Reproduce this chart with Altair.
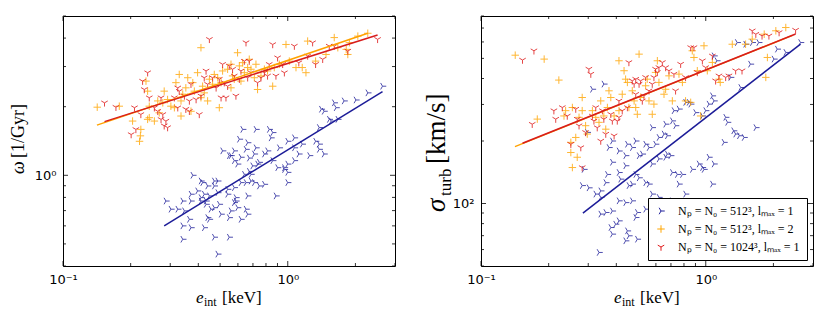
import altair as alt
import pandas as pd

# ---------------- series ----------------
S1 = "Nₚ = N₀ = 512³, lₘₐₓ = 1"
S2 = "Nₚ = N₀ = 512³, lₘₐₓ = 2"
S3 = "Nₚ = N₀ = 1024³, lₘₐₓ = 1"
SERIES = [S1, S2, S3]
MARKER_COLORS = ["#23239c", "#ffa500", "#e01818"]
LINE_COLORS = ["#1c1c98", "#ffa200", "#d81c1c"]
TRI_RIGHT = "M0,0L1,0M0,0L-0.5,-0.866M0,0L-0.5,0.866"
PLUS = "M-1,0L1,0M0,-1L0,1"
TRI_DOWN = "M0,0L0,1M0,0L-0.866,-0.5M0,0L0.866,-0.5"
SHAPES = [TRI_RIGHT, PLUS, TRI_DOWN]

# ---------------- left panel: omega [1/Gyr] vs e_int [keV] ----------------
LEFT_BLUE = [(2.64,2.46),(2.27,2.30),(2.01,2.14),(1.78,2.12),(1.61,2.08),(1.64,1.98),(1.41,1.95),(1.45,1.91),(1.38,1.62),(1.53,1.76),(1.67,1.76),(1.56,1.73),
    (0.630,1.59),(0.722,1.59),(0.827,1.59),(0.857,1.54),(0.842,1.46),(0.663,1.39),(0.609,1.44),(0.722,1.32),(0.652,1.30),(0.578,1.28),(0.513,1.28),(0.559,1.22),
    (0.619,1.20),(0.674,1.19),(0.710,1.24),(0.787,1.24),(0.813,1.28),(0.917,1.32),(0.999,1.41),(1.07,1.46),(1.07,1.32),(1.16,1.37),(1.38,1.37),(1.33,1.41),
    (1.38,1.30),(1.45,1.24),(1.12,1.24),(1.25,1.22),(1.07,1.16),(0.999,1.12),(0.966,1.06),(0.999,1.03),(0.901,1.08),(0.857,1.16),(0.747,1.14),(0.734,1.12),
    (0.698,1.10),(0.674,1.04),(0.686,1.01),(0.641,1.01),(0.598,1.12),(0.578,1.16),(0.549,1.22),
    (0.378,1.00),(0.411,0.944),(0.418,0.929),(0.471,0.944),(0.471,0.898),(0.488,0.944),(0.440,0.898),(0.397,0.854),(0.371,0.826),(0.425,0.826),
    (0.448,0.812),(0.433,0.771),(0.488,0.839),(0.540,0.868),(0.578,0.883),(0.619,0.929),(0.652,0.929),(0.686,0.944),(0.710,0.929),(0.747,0.898),
    (0.787,0.913),(0.886,0.812),(0.999,0.929),(0.966,1.08),(0.663,0.812),(0.588,0.798),(0.588,0.771),(0.652,0.710),(0.663,0.675),(0.559,0.698),
    (0.549,0.652),(0.505,0.675),(0.471,0.721),(0.455,0.710),(0.411,0.771),(0.371,0.771),(0.341,0.771),(0.324,0.710),(0.302,0.710),(0.287,0.771),
    (0.347,0.698),(0.365,0.641),(0.440,0.652),(0.448,0.641),(0.371,0.589),(0.425,0.589),(0.341,0.600),(0.471,0.535),(0.341,0.524),(0.488,0.451),
    (0.549,0.535),(0.411,0.798),(0.433,0.746),(0.496,0.746),(0.540,0.826),(0.598,0.721),(0.619,0.641),(0.578,0.759)]
LEFT_ORANGE = [(0.142,1.99),(0.178,2.01),(0.204,1.73),(0.222,1.59),(0.221,1.49),(0.219,1.41),(0.238,1.76),(0.242,1.79),(0.238,2.34),(0.234,2.59),
    (0.242,2.01),(0.255,1.73),(0.268,1.88),(0.282,2.34),(0.292,2.15),(0.302,2.01),(0.318,2.55),(0.329,2.77),(0.335,2.12),(0.341,2.27),
    (0.352,2.42),(0.359,2.68),(0.378,2.55),(0.397,2.82),(0.411,3.63),(0.418,2.46),(0.425,2.30),(0.440,2.12),(0.448,2.64),(0.463,2.51),
    (0.471,2.77),(0.496,1.98),(0.505,2.55),(0.513,2.87),(0.540,2.92),(0.559,3.07),(0.568,2.73),(0.578,2.64),(0.598,3.45),(0.609,3.02),
    (0.619,2.59),(0.630,3.12),(0.641,2.82),(0.663,2.97),(0.674,3.23),(0.686,2.92),(0.722,3.07),(0.734,2.38),(0.760,2.73),(0.787,2.92),
    (0.813,2.87),(0.857,2.46),(0.871,2.97),(0.917,3.07),(0.982,3.75),(1.016,3.17),(1.088,2.97),(1.16,2.97),(1.205,2.82),(1.226,3.88),
    (1.33,3.17),(1.48,3.39),(1.61,4.02),(1.67,3.63),(1.82,3.57),(1.88,3.82),(2.05,4.08),(2.27,4.20),(1.85,3.39),(0.411,2.19),
    (0.371,1.91),(0.335,1.82),(0.313,1.98),(0.278,2.08),(0.264,2.12),(0.384,2.34),(0.488,2.68),(0.559,2.42),(0.710,2.68)]
LEFT_RED = [(0.153,2.08),(0.172,1.99),(0.201,1.51),(0.211,1.59),(0.208,1.98),(0.222,1.85),(0.238,2.82),(0.226,2.59),(0.230,2.38),(0.242,2.19),
    (0.255,1.98),(0.264,1.91),(0.273,1.76),(0.278,1.85),(0.282,1.65),(0.292,1.62),(0.287,1.73),(0.313,2.19),(0.324,2.42),(0.329,2.34),
    (0.347,2.23),(0.352,1.95),(0.365,2.12),(0.371,2.51),(0.391,2.15),(0.404,1.85),(0.411,2.23),(0.433,2.87),(0.440,2.51),(0.448,3.95),
    (0.463,2.68),(0.480,2.42),(0.496,2.64),(0.513,3.07),(0.522,2.55),(0.531,2.19),(0.540,2.46),(0.549,3.02),(0.568,2.92),(0.578,2.73),
    (0.588,2.23),(0.609,2.64),(0.619,2.87),(0.641,3.17),(0.652,3.82),(0.663,2.68),(0.674,3.17),(0.686,2.82),(0.734,2.55),(0.760,2.68),
    (0.787,2.82),(0.813,2.73),(0.827,3.07),(0.857,3.75),(0.886,2.73),(0.901,3.28),(0.949,3.07),(0.966,2.82),(1.07,3.69),(1.12,3.12),
    (1.226,3.34),(1.29,3.82),(1.33,3.07),(1.43,3.23),(1.53,3.69),(1.61,3.69),(1.85,3.51),(2.51,3.95),(0.324,1.98),(0.273,2.19),
    (0.365,1.91),(0.425,2.68),(0.505,2.19)]
LEFT_FITS = {S1: [(0.282,0.60),(2.64,2.33)], S2: [(0.1416,1.66),(2.27,4.20)], S3: [(0.153,1.72),(2.51,4.13)]}

# ---------------- right panel: sigma_turb [km/s] vs e_int [keV] ----------------
RIGHT_BLUE = [(2.64,596),(2.27,534),(2.08,554),(2.01,496),(1.72,596),(1.58,469),(1.61,596),(1.504,585),(1.38,596),(1.12,487),
    (1.088,514),(1.29,405),(1.43,362),(1.67,232),(1.358,216),(1.41,212),(1.48,208),(1.226,260),(1.25,246),(1.205,197),
    (1.33,224),(1.088,312),(1.07,330),(1.033,301),(0.999,280),(0.966,264),(0.901,274),(0.857,301),(0.842,307),(0.813,307),
    (0.760,285),(0.722,280),(0.710,250),(0.734,237),(0.663,241),(0.674,212),(0.652,216),(0.619,208),(0.598,193),(0.578,232),
    (0.559,186),(0.540,193),(0.522,173),(0.505,170),(0.488,200),(0.471,186),(0.448,193),(0.440,170),(0.411,179),(0.384,200),
    (0.371,186),(0.352,376),(0.313,355),(0.297,220),(0.287,146),(0.282,122),(0.302,119),(0.324,111),(0.341,115),(0.359,126),
    (0.365,138),(0.384,158),(0.411,141),(0.418,131),(0.440,152),(0.455,122),(0.471,124),(0.488,138),(0.505,133),(0.540,126),
    (0.559,124),(0.578,155),(0.619,164),(0.663,167),(0.674,173),(0.698,170),(0.710,141),(0.747,138),(0.787,138),(0.760,124),
    (0.813,111),(0.871,146),(0.933,155),(0.966,149),(0.982,146),(1.033,167),(1.088,155),(1.07,124),(0.710,103),(0.619,107),
    (0.578,111),(0.471,103),(0.440,101),(0.411,103),(0.384,92),(0.359,90.5),(0.341,107),(0.378,76.6),(0.384,71.2),(0.411,82.5),
    (0.440,66.1),(0.448,73.8),(0.455,69.9),(0.496,67.3),(0.496,90.5),(0.488,85.6),(0.335,58.1),(0.397,79.5),(0.341,88.9),(0.598,85.6),
    (0.540,93.9)]
RIGHT_ORANGE = [(0.142,518),(0.191,496),(0.222,393),(0.178,255),(0.238,280),(0.234,264),(0.255,290),(0.282,324),(0.282,280),(0.292,237),
    (0.297,216),(0.264,208),(0.251,197),(0.251,176),(0.268,167),(0.255,149),(0.335,246),(0.341,312),(0.352,264),(0.359,228),
    (0.365,290),(0.371,349),(0.391,264),(0.411,487),(0.433,436),(0.440,397),(0.448,383),(0.471,349),(0.480,312),(0.488,290),
    (0.496,269),(0.505,524),(0.513,324),(0.540,369),(0.549,397),(0.559,312),(0.578,269),(0.588,301),(0.598,428),(0.609,487),
    (0.619,383),(0.663,355),(0.686,412),(0.710,312),(0.760,420),(0.787,383),(0.813,312),(0.857,307),(0.871,544),(0.886,505),
    (0.917,436),(0.949,264),(0.982,575),(1.016,436),(1.07,478),(1.145,397),(1.16,383),(1.312,585),(1.504,585),(1.61,619),
    (1.82,654),(1.88,505),(2.05,679),(2.27,704),(1.85,405),(0.313,280),(0.324,260),(0.425,336),(0.455,290),(0.378,324),
    (0.273,260),(0.411,280),(0.652,336)]
RIGHT_RED = [(0.153,491),(0.172,544),(0.169,241),(0.211,280),(0.215,255),(0.230,290),(0.242,264),(0.251,193),(0.264,285),(0.268,255),
    (0.273,237),(0.278,186),(0.282,149),(0.292,220),(0.302,444),(0.308,420),(0.313,264),(0.318,250),(0.324,290),(0.329,232),
    (0.341,200),(0.347,280),(0.352,255),(0.359,216),(0.378,269),(0.384,250),(0.391,212),(0.404,250),(0.411,260),(0.425,280),
    (0.448,290),(0.455,478),(0.471,390),(0.480,376),(0.488,397),(0.505,376),(0.513,390),(0.522,312),(0.531,330),(0.540,405),
    (0.559,349),(0.578,376),(0.588,405),(0.598,444),(0.609,428),(0.619,452),(0.641,478),(0.663,452),(0.686,436),(0.722,420),
    (0.734,349),(0.773,469),(0.813,405),(0.857,564),(0.886,564),(0.917,428),(0.966,487),(0.999,452),(1.07,514),(1.106,390),
    (1.145,412),(1.226,405),(1.268,412),(1.358,436),(1.45,436),(1.61,679),(1.67,654),(1.78,642),(1.91,642),(2.12,666),
    (2.51,684),(0.411,312),(0.488,336)]
RIGHT_FITS = {S1: [(0.284,89.8),(2.64,586)], S2: [(0.1416,188),(2.43,645)], S3: [(0.153,195),(2.51,655)]}

# ---------------- axes ----------------
X_DOMAIN = [0.1, 3.0]
X_MAJOR = [0.1, 1.0]
X_MINOR = [0.2, 0.3, 0.4, 0.5, 0.6, 0.7, 0.8, 0.9, 2.0, 3.0]
LEFT_Y_DOMAIN = [0.4, 5.0]
LEFT_Y_MAJOR = [1.0]
LEFT_Y_MINOR = [0.4, 0.5, 0.6, 0.7, 0.8, 0.9, 2.0, 3.0, 4.0, 5.0]
RIGHT_Y_DOMAIN = [50, 800]
RIGHT_Y_MAJOR = [100]
RIGHT_Y_MINOR = [50, 60, 70, 80, 90, 200, 300, 400, 500, 600, 700, 800]

W, H = 332, 250
SERIF = "Liberation Serif"
one = pd.DataFrame({"k": [0]})


def points_df(groups):
    rows = []
    for s, pts in groups:
        rows += [{"x": a, "y": b, "s": s} for a, b in pts]
    return pd.DataFrame(rows)


def fits_df(fits):
    rows = []
    for s, pts in fits.items():
        for i, (a, b) in enumerate(pts):
            rows.append({"x": a, "y": b, "s": s, "o": i})
    return pd.DataFrame(rows)


def txt(t, x, y, size, style="normal", angle=0):
    kw = dict(text=t, font=SERIF, fontSize=size, fontStyle=style, align="left",
              baseline="alphabetic", color="black")
    if angle:
        kw["angle"] = angle
    return alt.Chart(one).mark_text(**kw).encode(x=alt.value(x), y=alt.value(y))


def panel(pts, fits, ydom, ymaj, ymin, ylab_expr, titles, legend):
    xsc = alt.Scale(type="log", domain=X_DOMAIN, nice=False)
    ysc = alt.Scale(type="log", domain=ydom, nice=False)
    xax = alt.Axis(values=X_MAJOR, labelExpr="datum.value < 0.5 ? '10⁻¹' : '10⁰'",
                   ticks=False, domain=False, grid=False, title=None, labelFlush=False,
                   labelFont="DejaVu Sans", labelFontSize=13, labelColor="black", labelPadding=7)
    yax = alt.Axis(values=ymaj, labelExpr=ylab_expr, ticks=False, domain=False, grid=False,
                   title=None, labelFlush=False, labelFont="DejaVu Sans", labelFontSize=13,
                   labelColor="black", labelPadding=7)
    X = lambda f: alt.X(f, scale=xsc, axis=xax)
    Y = lambda f: alt.Y(f, scale=ysc, axis=yax)

    color = alt.Color("s:N", scale=alt.Scale(domain=SERIES, range=MARKER_COLORS), legend=legend)
    shape = alt.Shape("s:N", scale=alt.Scale(domain=SERIES, range=SHAPES), legend=legend)
    scatter = alt.Chart(pts).mark_point(filled=False, size=56, strokeWidth=1, opacity=0.8).encode(
        x=X("x:Q"), y=Y("y:Q"), color=color, shape=shape)
    lines = alt.Chart(fits).mark_line(strokeWidth=1.5).encode(
        x=X("x:Q"), y=Y("y:Q"), order="o:Q",
        stroke=alt.Stroke("s:N", scale=alt.Scale(domain=SERIES, range=LINE_COLORS), legend=None))

    layers = [scatter, lines]
    for vals, L in ((X_MAJOR, 5), (X_MINOR, 3)):
        base = alt.Chart(pd.DataFrame({"v": vals})).mark_rule(color="black", strokeWidth=0.8)
        layers.append(base.encode(x=X("v:Q"), y=alt.value(H), y2=alt.value(H - L)))
        layers.append(base.encode(x=X("v:Q"), y=alt.value(0), y2=alt.value(L)))
    for vals, L in ((ymaj, 5), (ymin, 3)):
        base = alt.Chart(pd.DataFrame({"v": vals})).mark_rule(color="black", strokeWidth=0.8)
        layers.append(base.encode(y=Y("v:Q"), x=alt.value(0), x2=alt.value(L)))
        layers.append(base.encode(y=Y("v:Q"), x=alt.value(W), x2=alt.value(W - L)))
    layers += titles
    return alt.layer(*layers).properties(width=W, height=H)


x_titles = [txt("e", 133, 287, 17, "italic"), txt("int", 141, 290, 12), txt("[keV]", 159, 287, 17)]

left_titles = x_titles + [txt("ω", -39, 158, 18, "italic", 270), txt("[1/Gyr]", -39, 142, 18, angle=270)]
right_titles = x_titles + [txt("σ", -36, 196, 27, "italic", 270), txt("turb", -30, 180, 17, angle=270),
                           txt("[km/s]", -36, 148, 27, angle=270)]

legend = alt.Legend(title=None, orient="bottom-right", offset=6, strokeColor="black", fillColor="white",
                    padding=7, labelFont=SERIF, labelFontSize=12, labelColor="black", symbolSize=56,
                    symbolStrokeWidth=1, symbolOpacity=1, rowPadding=6, labelOffset=11, cornerRadius=0)

left = panel(points_df([(S1, LEFT_BLUE), (S2, LEFT_ORANGE), (S3, LEFT_RED)]), fits_df(LEFT_FITS),
             LEFT_Y_DOMAIN, LEFT_Y_MAJOR, LEFT_Y_MINOR, "'10⁰'", left_titles, None)
right = panel(points_df([(S1, RIGHT_BLUE), (S2, RIGHT_ORANGE), (S3, RIGHT_RED)]), fits_df(RIGHT_FITS),
              RIGHT_Y_DOMAIN, RIGHT_Y_MAJOR, RIGHT_Y_MINOR, "'10²'", right_titles, legend)

chart = alt.hconcat(left, right, spacing=26).resolve_scale(
    color="independent", shape="independent", stroke="independent"
).properties(
    padding={"left": 1, "top": 7, "right": 0, "bottom": 0}, background="white"
).configure_view(stroke="black", strokeWidth=1)

chart.save("out.html", embed_options={"renderer": "svg", "actions": False})
